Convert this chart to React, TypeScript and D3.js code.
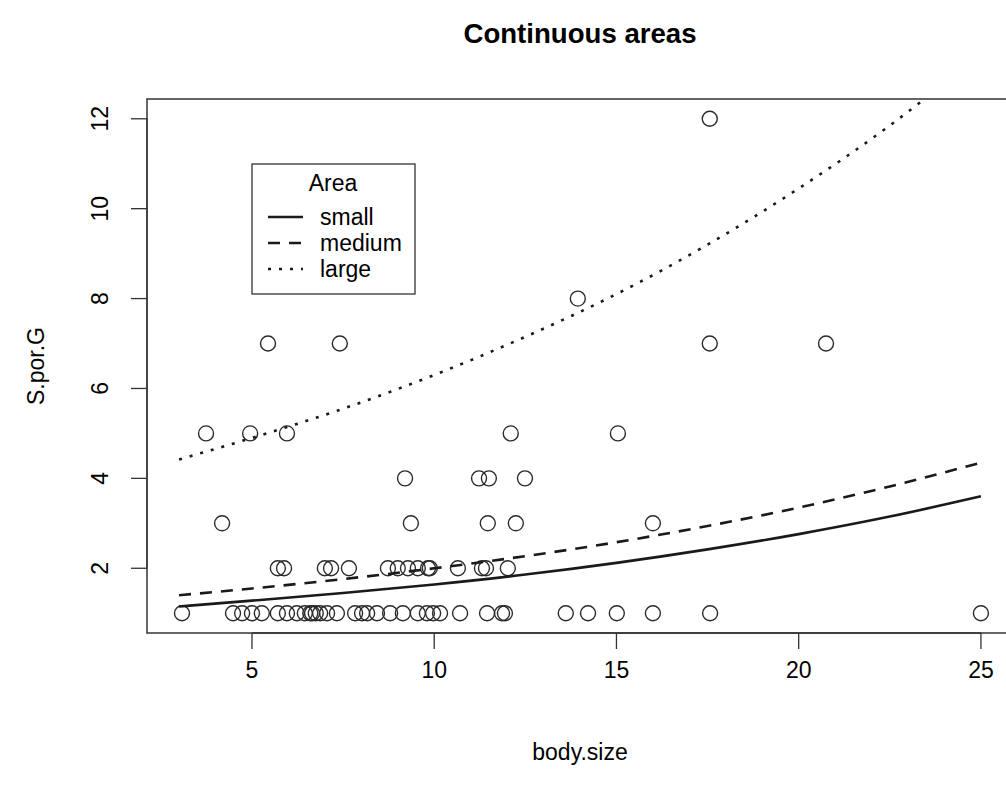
import React from "react";
import * as d3 from "d3";

const bodySize = [
  3.08, 4.48, 4.73, 5.0, 5.27, 5.71, 5.96, 6.23, 6.45, 6.6, 6.65, 6.75, 6.87, 7.06, 7.33, 7.83, 8.02, 8.16, 8.43, 8.79,
  9.14, 9.55, 9.8, 9.97, 10.16, 10.71, 11.45, 11.86, 11.94, 13.61, 14.22, 15.01, 16.0, 17.57, 25.0,
  5.71, 5.88, 7.0, 7.17, 7.66, 8.73, 9.0, 9.28, 9.55, 9.83, 9.88, 10.65, 11.31, 11.42, 12.02,
  4.18, 9.36, 11.47, 12.24, 16.0,
  9.2, 11.23, 11.5, 12.49,
  3.74, 4.95, 5.96, 12.1, 15.04,
  5.44, 7.41, 17.56, 20.75,
  13.94,
  17.56,
];
const sporG = [
  1, 1, 1, 1, 1, 1, 1, 1, 1, 1, 1, 1, 1, 1, 1, 1, 1, 1, 1, 1,
  1, 1, 1, 1, 1, 1, 1, 1, 1, 1, 1, 1, 1, 1, 1,
  2, 2, 2, 2, 2, 2, 2, 2, 2, 2, 2, 2, 2, 2, 2,
  3, 3, 3, 3, 3,
  4, 4, 4, 4,
  5, 5, 5, 5, 5,
  7, 7, 7, 7,
  8,
  12,
];

const fitX = [3, 5, 7.5, 10, 12.5, 15, 17.5, 20, 22.5, 25];
const smallFit = [1.15, 1.28, 1.45, 1.64, 1.86, 2.12, 2.42, 2.76, 3.15, 3.6];
const mediumFit = [1.4, 1.55, 1.76, 2.0, 2.27, 2.58, 2.94, 3.35, 3.82, 4.35];
const largeFit = [4.42, 4.9, 5.55, 6.3, 7.15, 8.1, 9.2, 10.45, 11.85, 13.45];

const xTicks = [5, 10, 15, 20, 25];
const yTicks = [2, 4, 6, 8, 10, 12];
const legendLabels = ["small", "medium", "large"];

const W = 1006;
const H = 789;
const L = 147, R = 1013, T = 99, B = 633;
const FONT = "'Liberation Sans', Arial, Helvetica, sans-serif";
const INK = "#1a1a1a";
const FS = 23;

export default function App() {
  const x = d3.scaleLinear().domain([2.12, 25.88]).range([L, R]);
  const y = d3.scaleLinear().domain([0.56, 12.44]).range([B, T]);
  const line = d3
    .line<number>()
    .x((_, i) => x(fitX[i]))
    .y((v) => y(v))
    .curve(d3.curveMonotoneX);

  const fits = [
    { vals: smallFit, dash: undefined as string | undefined },
    { vals: mediumFit, dash: "12,9" },
    { vals: largeFit, dash: "3,8" },
  ];

  return (
    <svg
      width={W}
      height={H}
      style={{ position: "absolute", left: 0, top: 0, background: "#fff" }}
      fontFamily={FONT}
    >
      <rect x={0} y={0} width={W} height={H} fill="#fff" />
      <defs>
        <clipPath id="plotClip">
          <rect x={L} y={T} width={R - L} height={B - T} />
        </clipPath>
      </defs>
      <text x={(L + R) / 2} y={43} textAnchor="middle" fontSize={FS * 1.2} fontWeight="bold" fill="#000">
        Continuous areas
      </text>

      {/* points */}
      <g fill="none" stroke="#2a2a2a" strokeWidth={1.4}>
        {bodySize.map((b, i) => (
          <circle key={i} cx={x(b)} cy={y(sporG[i])} r={7.5} />
        ))}
      </g>

      {/* fitted curves */}
      <g clipPath="url(#plotClip)" fill="none" stroke={INK} strokeWidth={2.6}>
        {fits.map((f, i) => (
          <path key={i} d={line(f.vals) || ""} strokeDasharray={f.dash} strokeLinecap="butt" />
        ))}
      </g>

      {/* box */}
      <rect x={L} y={T} width={R - L} height={B - T} fill="none" stroke="#333" strokeWidth={1.5} />

      {/* x axis */}
      <g stroke="#333" strokeWidth={1.3}>
        <line x1={x(xTicks[0])} x2={x(xTicks[xTicks.length - 1])} y1={B} y2={B} />
        {xTicks.map((t) => (
          <line key={t} x1={x(t)} x2={x(t)} y1={B} y2={B + 16} />
        ))}
      </g>
      {xTicks.map((t) => (
        <text key={t} x={x(t)} y={678} textAnchor="middle" fontSize={FS} fill="#000">
          {t}
        </text>
      ))}
      <text x={(L + R) / 2} y={760} textAnchor="middle" fontSize={FS} fill="#000">
        body.size
      </text>

      {/* y axis */}
      <g stroke="#333" strokeWidth={1.3}>
        <line x1={L} x2={L} y1={y(yTicks[0])} y2={y(yTicks[yTicks.length - 1])} />
        {yTicks.map((t) => (
          <line key={t} x1={L} x2={L - 16} y1={y(t)} y2={y(t)} />
        ))}
      </g>
      {yTicks.map((t) => (
        <text
          key={t}
          transform={`translate(100,${y(t)}) rotate(-90)`}
          textAnchor="middle"
          dominantBaseline="central"
          fontSize={FS}
          fill="#000"
        >
          {t}
        </text>
      ))}
      <text
        transform={`translate(36,${(T + B) / 2}) rotate(-90)`}
        textAnchor="middle"
        dominantBaseline="central"
        fontSize={FS}
        fill="#000"
      >
        S.por.G
      </text>

      {/* legend */}
      <g>
        <rect x={252} y={164} width={163} height={130} fill="#fff" stroke="#333" strokeWidth={1.3} />
        <text x={333} y={183} textAnchor="middle" dominantBaseline="central" fontSize={FS} fill="#000">
          Area
        </text>
        {legendLabels.map((lab, i) => (
          <g key={lab}>
            <line
              x1={268}
              x2={303}
              y1={217 + i * 26}
              y2={217 + i * 26}
              stroke={INK}
              strokeWidth={2.6}
              strokeDasharray={fits[i].dash}
            />
            <text x={320} y={217 + i * 26} dominantBaseline="central" fontSize={FS} fill="#000">
              {lab}
            </text>
          </g>
        ))}
      </g>
    </svg>
  );
}
